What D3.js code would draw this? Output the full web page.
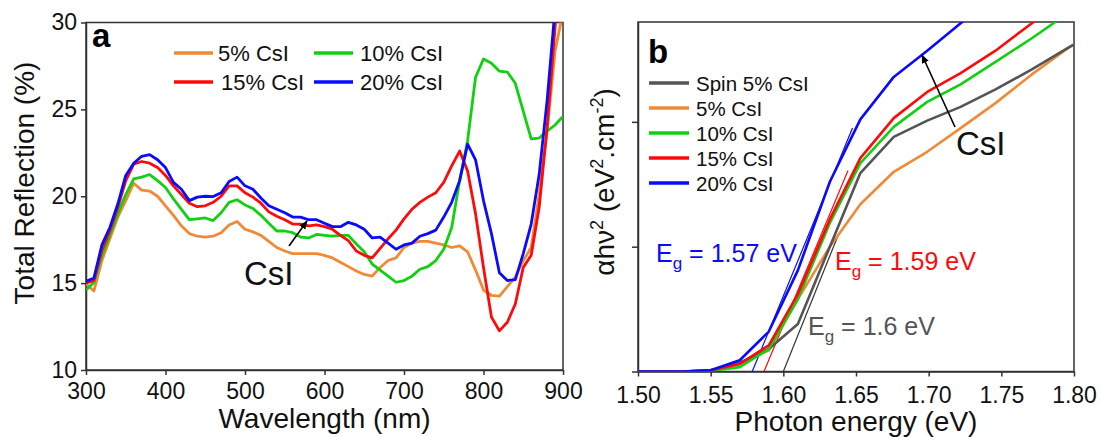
<!DOCTYPE html>
<html><head><meta charset="utf-8">
<script src="https://cdn.jsdelivr.net/npm/d3@7"></script>
<style>
html,body{margin:0;padding:0;background:#fff;}
svg{display:block;font-family:"Liberation Sans",Arial,sans-serif;}
</style></head>
<body>
<svg id="chart" width="1101" height="437"></svg>
<script>
// ---------- Panel a: total reflection ----------
const wavelengths = [300,310,320,330,340,350,360,370,380,390,400,410,420,430,440,450,460,470,480,490,500,510,520,530,540,550,560,570,580,590,600,610,620,630,640,650,660,670,680,690,700,710,720,730,740,750,760,770,780,790,800,810,820,830,840,850,860,870,880,890,900];
const refl5 = [14.95,14.55,16.3,17.55,18.8,19.75,20.75,20.35,20.3,20.0,
  19.45,18.9,18.3,17.85,17.7,17.65,17.7,17.9,18.35,18.55,
  18.1,17.95,17.75,17.4,17.05,16.85,16.7,16.7,16.7,16.7,
  16.6,16.45,16.2,15.95,15.7,15.5,15.4,15.9,16.3,16.45,
  17.05,17.3,17.4,17.4,17.3,17.2,17.05,17.15,16.8,15.75,
  14.6,14.3,14.25,14.8,15.35,16.3,17.05,20.1,23.75,28.35,30.6];
const refl10 = [14.6,15.05,16.6,17.75,19.0,20.1,21.0,21.1,21.25,20.9,
  20.5,19.85,19.25,18.65,18.7,18.75,18.6,19.05,19.65,19.8,
  19.5,19.3,18.9,18.45,18.0,18.0,17.9,17.65,17.6,17.8,
  17.75,17.7,17.75,17.75,17.25,16.8,16.1,15.75,15.4,15.05,
  15.15,15.4,15.8,15.95,16.3,16.95,18.2,20.9,23.2,26.85,
  27.9,27.65,27.2,27.15,26.5,24.9,23.3,23.35,23.75,24.1,24.6];
const refl15 = [15.0,15.15,16.9,18.0,19.35,20.9,21.85,22.0,21.9,21.65,
  21.2,20.6,20.1,19.6,19.4,19.45,19.65,20.0,20.6,20.6,
  20.2,19.95,19.6,19.1,18.85,18.65,18.4,18.4,18.3,18.35,
  18.25,18.1,17.75,17.45,16.85,16.6,16.45,17.0,17.55,18.05,
  18.7,19.25,19.65,19.95,20.2,20.8,21.75,22.6,21.45,19.0,
  15.9,13.05,12.25,12.75,13.8,15.9,16.6,19.35,23.95,29.7,36];
const refl20 = [15.1,15.3,17.2,18.2,19.55,21.2,21.9,22.3,22.4,22.1,
  21.65,20.8,20.4,19.75,19.95,20.0,19.98,20.2,20.85,21.1,
  20.6,20.4,19.9,19.45,19.25,19.05,18.8,18.8,18.65,18.65,
  18.45,18.25,18.25,18.5,18.35,18.1,17.6,17.65,17.3,16.95,
  17.2,17.3,17.7,17.85,18.05,18.8,19.65,20.9,23.0,22.1,
  19.75,17.85,15.6,15.15,15.2,16.7,18.4,21.25,25.5,30.8,37];
const seriesA = ["5% CsI","10% CsI","15% CsI","20% CsI"];
const xTicksA = [300,400,500,600,700,800,900];
const yTicksA = [10,15,20,25,30];

// ---------- Panel b: Tauc plot ----------
const energy = [1.494,1.512,1.531,1.550,1.570,1.590,1.610,1.632,1.653,1.676,1.699,1.722,1.746,1.771,1.797,1.824];
const taucSpin5 = [0,0,0,0.01,0.07,0.18,0.38,1.00,1.59,1.88,2.01,2.12,2.26,2.42,2.60,2.76];
const tauc5  = [0,0,0,0.01,0.06,0.17,0.58,1.00,1.34,1.60,1.76,1.95,2.15,2.38,2.60,2.80];
const tauc10 = [0,0,0,0.005,0.035,0.18,0.58,1.19,1.67,1.96,2.16,2.30,2.48,2.67,2.88,null];
const tauc15 = [0,0,0,0.01,0.06,0.21,0.62,1.22,1.71,2.03,2.24,2.39,2.57,2.79,3.0,null];
const tauc20 = [0,0,0,0.01,0.09,0.32,0.81,1.52,2.02,2.36,2.57,2.79,3.0,null,null,null];
const seriesB = ["Spin 5% CsI","5% CsI","10% CsI","15% CsI","20% CsI"];
const xTicksB = [1.50,1.55,1.60,1.65,1.70,1.75,1.80];
const yTicksB = [0,1,2];
// linear fits (energy, value) endpoints
const fitE20 = [1.5786,1.6476], fitV20 = [0,1.95];
const fitE15 = [1.5867,1.6445], fitV15 = [0,1.61];
const fitESpin = [1.600,1.638], fitVSpin = [0,1.10];
const bandgaps = ["1.57","1.59","1.6"];

const cOrange="#f08a35", cGreen="#10d010", cRed="#ff0a0a", cBlue="#0a0aff", cGray="#555555", cAxis="#333";

const svg = d3.select("#chart");
const defs = svg.append("defs");
defs.append("marker").attr("id","arr").attr("viewBox","0 0 10 10").attr("refX",9).attr("refY",5)
  .attr("markerWidth",9).attr("markerHeight",9).attr("markerUnits","userSpaceOnUse").attr("orient","auto")
  .append("path").attr("d","M0,1 L10,5 L0,9 Z").attr("fill","#000");

// ===== Panel a =====
const xA = d3.scaleLinear().domain([300,900]).range([86,563]);
const yA = d3.scaleLinear().domain([10,30]).range([370,22.5]);
defs.append("clipPath").attr("id","clipA").append("rect")
  .attr("x",86).attr("y",22.5).attr("width",477).attr("height",347.5);

const gA = svg.append("g");
const axA1 = gA.append("g").attr("transform","translate(0,370)")
  .call(d3.axisBottom(xA).tickValues(xTicksA).tickSize(5).tickSizeOuter(0).tickPadding(8));
const axA2 = gA.append("g").attr("transform","translate(86,0)")
  .call(d3.axisLeft(yA).tickValues(yTicksA).tickSize(5).tickSizeOuter(0).tickPadding(4));
[axA1,axA2].forEach(a=>{a.selectAll("text").attr("font-size",23).attr("fill","#111").attr("font-family","Liberation Sans, Arial, sans-serif");
  a.selectAll("line,path").attr("stroke",cAxis).attr("stroke-width",1.5);});
gA.append("rect").attr("x",86).attr("y",22.5).attr("width",477).attr("height",347.5)
  .attr("fill","none").attr("stroke",cAxis).attr("stroke-width",1.5);

const lineA = d3.line().x((d,i)=>xA(wavelengths[i])).y(d=>yA(d));
const dataA = [[refl5,cOrange],[refl10,cGreen],[refl15,cRed],[refl20,cBlue]];
const gLinesA = gA.append("g").attr("clip-path","url(#clipA)");
dataA.forEach(([vals,col])=>{
  gLinesA.append("path").attr("d",lineA(vals)).attr("fill","none").attr("stroke",col)
    .attr("stroke-width",2.8).attr("stroke-linejoin","round");
});

// legend a
const legA = [[174,53,cOrange,218,seriesA[0]],[314,53,cGreen,360,seriesA[1]],
              [174,82,cRed,221,seriesA[2]],[314,82,cBlue,360,seriesA[3]]];
legA.forEach(([x,y,c,tx,t])=>{
  gA.append("line").attr("x1",x).attr("x2",x+39).attr("y1",y).attr("y2",y).attr("stroke",c).attr("stroke-width",3.5);
  gA.append("text").attr("x",tx).attr("y",y+8).attr("font-size",22).attr("fill","#111").text(t);
});
gA.append("text").attr("x",92).attr("y",47).attr("font-size",33).attr("font-weight","bold").text("a");
gA.append("text").attr("x",244).attr("y",285).attr("font-size",33).attr("fill","#111").text("CsI");
gA.append("line").attr("x1",289).attr("y1",246).attr("x2",307).attr("y2",221)
  .attr("stroke","#000").attr("stroke-width",1.6).attr("marker-end","url(#arr)");
gA.append("text").attr("transform","translate(34,183) rotate(-90)").attr("text-anchor","middle")
  .attr("font-size",28).attr("fill","#111").text("Total Reflection (%)");
gA.append("text").attr("x",324.5).attr("y",428).attr("text-anchor","middle")
  .attr("font-size",28).attr("fill","#111").text("Wavelength (nm)");

// ===== Panel b =====
const xB = d3.scaleLinear().domain([1.5,1.8]).range([638,1074]);
const yB = d3.scaleLinear().domain([0,2.8]).range([371.5,22]);
defs.append("clipPath").attr("id","clipB").append("rect")
  .attr("x",638).attr("y",22).attr("width",436).attr("height",349.5);
const gB = svg.append("g");
const axB1 = gB.append("g").attr("transform","translate(0,371.5)")
  .call(d3.axisBottom(xB).tickValues(xTicksB).tickFormat(d3.format(".2f")).tickSize(5).tickSizeOuter(0).tickPadding(10));
const axB2 = gB.append("g").attr("transform","translate(638,0)")
  .call(d3.axisLeft(yB).tickValues(yTicksB).tickFormat("").tickSize(6).tickSizeOuter(0));
[axB1,axB2].forEach(a=>{a.selectAll("text").attr("font-size",23).attr("fill","#111").attr("font-family","Liberation Sans, Arial, sans-serif");
  a.selectAll("line,path").attr("stroke",cAxis).attr("stroke-width",1.5);});
gB.append("rect").attr("x",638).attr("y",22).attr("width",436).attr("height",349.5)
  .attr("fill","none").attr("stroke",cAxis).attr("stroke-width",1.5);

const lineB = d3.line().defined(d=>d!==null).x((d,i)=>xB(energy[i])).y(d=>yB(d));
const gLinesB = gB.append("g").attr("clip-path","url(#clipB)");
// fit lines
[[fitE20,fitV20,cBlue],[fitE15,fitV15,cRed],[fitESpin,fitVSpin,"#333"]].forEach(([E,V,c])=>{
  gLinesB.append("line").attr("x1",xB(E[0])).attr("y1",yB(V[0])).attr("x2",xB(E[1])).attr("y2",yB(V[1]))
    .attr("stroke",c).attr("stroke-width",1.2);
});
const dataB = [[tauc5,cOrange],[taucSpin5,cGray],[tauc10,cGreen],[tauc15,cRed],[tauc20,cBlue]];
dataB.forEach(([vals,col])=>{
  gLinesB.append("path").attr("d",lineB(vals)).attr("fill","none").attr("stroke",col)
    .attr("stroke-width",2.6).attr("stroke-linejoin","round");
});

// legend b
const legColsB = [cGray,cOrange,cGreen,cRed,cBlue];
seriesB.forEach((t,i)=>{
  const y = 83 + i*25;
  gB.append("line").attr("x1",649).attr("x2",689).attr("y1",y).attr("y2",y).attr("stroke",legColsB[i]).attr("stroke-width",3.5);
  gB.append("text").attr("x",696).attr("y",y+7.5).attr("font-size",20.5).attr("fill","#111").text(t);
});
gB.append("text").attr("x",648).attr("y",63).attr("font-size",33).attr("font-weight","bold").text("b");

function eg(x,y,col,val){
  const t = gB.append("text").attr("x",x).attr("y",y).attr("font-size",25).attr("fill",col);
  t.append("tspan").text("E");
  t.append("tspan").attr("font-size",17).attr("dy",7).text("g");
  t.append("tspan").attr("dy",-7).text(" = "+val+" eV");
}
eg(656,261.5,cBlue,bandgaps[0]);
eg(835,270,cRed,bandgaps[1]);
eg(808,335,"#555",bandgaps[2]);

gB.append("text").attr("x",956).attr("y",155).attr("font-size",33).attr("fill","#111").text("CsI");
gB.append("line").attr("x1",955).attr("y1",127).attr("x2",922).attr("y2",55)
  .attr("stroke","#000").attr("stroke-width",1.6).attr("marker-end","url(#arr)");

const yl = gB.append("text").attr("transform","translate(614,182) rotate(-90)").attr("text-anchor","middle")
  .attr("font-size",28).attr("fill","#111");
yl.append("tspan").text("\u03B1h\u03BD");
yl.append("tspan").attr("font-size",18).attr("dy",-11).text("2");
yl.append("tspan").attr("dy",11).text(" (eV");
yl.append("tspan").attr("font-size",18).attr("dy",-11).text("2");
yl.append("tspan").attr("dy",11).text(".cm");
yl.append("tspan").attr("font-size",18).attr("dy",-11).text("-2");
yl.append("tspan").attr("dy",11).text(")");

gB.append("text").attr("x",856).attr("y",431).attr("text-anchor","middle")
  .attr("font-size",28).attr("fill","#111").text("Photon energy (eV)");
</script>
</body></html>
